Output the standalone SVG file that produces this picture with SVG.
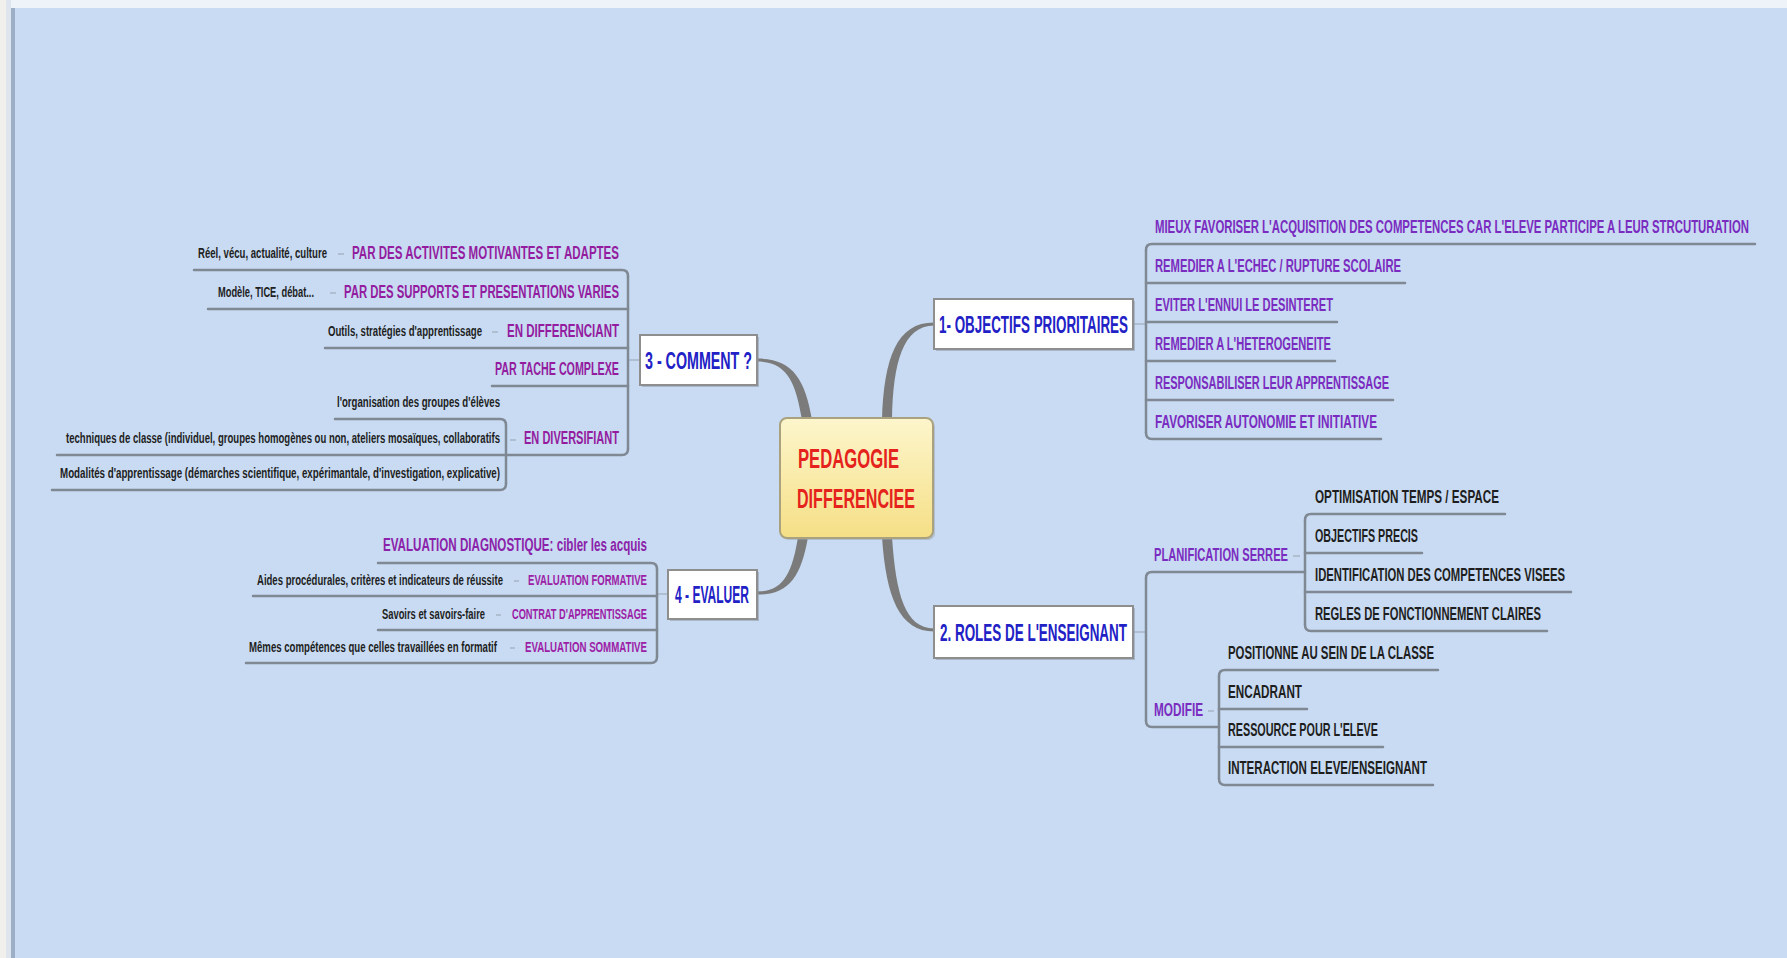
<svg xmlns="http://www.w3.org/2000/svg" width="1787" height="958" viewBox="0 0 1787 958">
<defs>
<linearGradient id="cg" x1="0" y1="0" x2="0" y2="1">
<stop offset="0" stop-color="#fdf6cc"/>
<stop offset="1" stop-color="#f5df86"/>
</linearGradient>
</defs>
<style>
text{font-family:"Liberation Sans Narrow","Liberation Sans","DejaVu Sans",sans-serif;font-weight:bold}
.m{font-size:18.5px}
.s{font-size:14.5px}
.ttl{font-size:23.5px;fill:#2121c6}
.pl{fill:#931c9f}
.pr{fill:#7a2cc0}
.pe{fill:#9c20a6}
.k{fill:#1e1e1e}
.ul{fill:none;stroke:#7f8893;stroke-width:2.5;stroke-linecap:round}
.sp{fill:none;stroke:#7f8893;stroke-width:2.5}
.stub{stroke:#a7b4c6;stroke-width:1.5}
.box{fill:#fff;stroke:#8e8e8e;stroke-width:2}
.sh{fill:#8d98a6;opacity:.55}
.br{fill:#7b7b7b}
</style>
<rect x="0" y="0" width="1787" height="958" fill="#c8dbf2"/>
<rect x="0" y="0" width="1787" height="8" fill="#eef3fa"/>
<rect x="0" y="0" width="6" height="958" fill="#f2f0ec"/>
<rect x="6" y="0" width="5" height="958" fill="#dfe5ee"/>
<rect x="11" y="8" width="4" height="950" fill="#9dafc7"/>

<g id="connectors">
<path class="br" d="M 882 420 C 884 357, 897 322.5, 934 322.5 L 934 325.5 C 903 326, 893 362, 892 420 Z"/>
<path class="br" d="M 802 420 C 796 384, 788 361.5, 757 361.5 L 757 358.5 C 792 358.5, 805 378, 812 420 Z"/>
<path class="br" d="M 798 537 C 792 574, 783 591.5, 757 591.5 L 757 594.5 C 788 595, 801 578, 808 537 Z"/>
<path class="br" d="M 882 537 C 886 598, 900 631.5, 934 631.5 L 934 628.5 C 905 628, 896 595, 892 537 Z"/>
<line class="stub" x1="1134" y1="324" x2="1145" y2="324"/>
<line class="stub" x1="1134" y1="632" x2="1145" y2="632"/>
<line class="stub" x1="629" y1="360" x2="639" y2="360"/>
<line class="stub" x1="658" y1="594" x2="667" y2="594"/>
<line class="stub" x1="1293" y1="556" x2="1300" y2="556"/>
<line class="stub" x1="1208" y1="711" x2="1214" y2="711"/>
<line class="stub" x1="338" y1="254" x2="344" y2="254"/>
<line class="stub" x1="330" y1="293" x2="336" y2="293"/>
<line class="stub" x1="492" y1="332" x2="498" y2="332"/>
<line class="stub" x1="510" y1="440" x2="516" y2="440"/>
<line class="stub" x1="514" y1="581" x2="519" y2="581"/>
<line class="stub" x1="496" y1="615" x2="501" y2="615"/>
<line class="stub" x1="510" y1="648" x2="515" y2="648"/>
<path class="sp" d="M 1146 250 L 1146 433"/>
<path class="sp" d="M 1146 578 L 1146 721"/>
<path class="sp" d="M 1305 520 L 1305 625"/>
<path class="sp" d="M 1219 676 L 1219 779"/>
<path class="sp" d="M 628 276 L 628 449"/>
<path class="sp" d="M 506 425 L 506 484"/>
<path class="sp" d="M 657 569 L 657 657"/>
</g>

<g id="central">
<rect x="782" y="420" width="153" height="120" rx="7" fill="#98a2ae" opacity=".5"/>
<rect x="780" y="418" width="153" height="120" rx="7" fill="url(#cg)" stroke="#aaa27e" stroke-width="2"/>
<text x="798" y="468" font-size="27" fill="#e5221c" textLength="101" lengthAdjust="spacingAndGlyphs">PEDAGOGIE</text>
<text x="797" y="508" font-size="27" fill="#e5221c" textLength="118" lengthAdjust="spacingAndGlyphs">DIFFERENCIEE</text>
</g>

<g id="n1">
<rect class="sh" x="936" y="301" width="199" height="50"/>
<rect class="box" x="934" y="299" width="199" height="50"/>
<text class="ttl" x="939" y="332.5" textLength="189" lengthAdjust="spacingAndGlyphs">1- OBJECTIFS PRIORITAIRES</text>
</g>
<g id="n1-1"><path class="ul" d="M 1146 250 Q 1146 244 1152 244 L 1755 244"/><text class="m pr" x="1155" y="233" textLength="594" lengthAdjust="spacingAndGlyphs">MIEUX FAVORISER L'ACQUISITION DES COMPETENCES CAR L'ELEVE PARTICIPE A LEUR STRCUTURATION</text></g>
<g id="n1-2"><path class="ul" d="M 1146 283 L 1405 283"/><text class="m pr" x="1155" y="272" textLength="246" lengthAdjust="spacingAndGlyphs">REMEDIER A L'ECHEC / RUPTURE SCOLAIRE</text></g>
<g id="n1-3"><path class="ul" d="M 1146 322 L 1337 322"/><text class="m pr" x="1155" y="311" textLength="178" lengthAdjust="spacingAndGlyphs">EVITER L'ENNUI LE DESINTERET</text></g>
<g id="n1-4"><path class="ul" d="M 1146 361 L 1335 361"/><text class="m pr" x="1155" y="350" textLength="176" lengthAdjust="spacingAndGlyphs">REMEDIER A L'HETEROGENEITE</text></g>
<g id="n1-5"><path class="ul" d="M 1146 400 L 1393 400"/><text class="m pr" x="1155" y="389" textLength="234" lengthAdjust="spacingAndGlyphs">RESPONSABILISER LEUR APPRENTISSAGE</text></g>
<g id="n1-6"><path class="ul" d="M 1146 433 Q 1146 439 1152 439 L 1381 439"/><text class="m pr" x="1155" y="428" textLength="222" lengthAdjust="spacingAndGlyphs">FAVORISER AUTONOMIE ET INITIATIVE</text></g>

<g id="n2">
<rect class="sh" x="936" y="608" width="199" height="52"/>
<rect class="box" x="934" y="606" width="199" height="52"/>
<text class="ttl" x="940" y="640.5" textLength="187" lengthAdjust="spacingAndGlyphs">2. ROLES DE L'ENSEIGNANT</text>
</g>
<g id="n2-1"><path class="ul" d="M 1146 578 Q 1146 572 1152 572 L 1305 572"/><text class="m pr" x="1154" y="561" textLength="134" lengthAdjust="spacingAndGlyphs">PLANIFICATION SERREE</text></g>
<g id="n2-1-1"><path class="ul" d="M 1305 520 Q 1305 514 1311 514 L 1505 514"/><text class="m k" x="1315" y="502.5" textLength="184" lengthAdjust="spacingAndGlyphs">OPTIMISATION TEMPS / ESPACE</text></g>
<g id="n2-1-2"><path class="ul" d="M 1305 553 L 1422 553"/><text class="m k" x="1315" y="541.5" textLength="103" lengthAdjust="spacingAndGlyphs">OBJECTIFS PRECIS</text></g>
<g id="n2-1-3"><path class="ul" d="M 1305 592 L 1571 592"/><text class="m k" x="1315" y="580.5" textLength="250" lengthAdjust="spacingAndGlyphs">IDENTIFICATION DES COMPETENCES VISEES</text></g>
<g id="n2-1-4"><path class="ul" d="M 1305 625 Q 1305 631 1311 631 L 1547 631"/><text class="m k" x="1315" y="619.5" textLength="226" lengthAdjust="spacingAndGlyphs">REGLES DE FONCTIONNEMENT CLAIRES</text></g>
<g id="n2-2"><path class="ul" d="M 1146 721 Q 1146 727 1152 727 L 1219 727"/><text class="m pr" x="1154" y="716" textLength="49" lengthAdjust="spacingAndGlyphs">MODIFIE</text></g>
<g id="n2-2-1"><path class="ul" d="M 1219 676 Q 1219 670 1225 670 L 1438 670"/><text class="m k" x="1228" y="658.5" textLength="206" lengthAdjust="spacingAndGlyphs">POSITIONNE AU SEIN DE LA CLASSE</text></g>
<g id="n2-2-2"><path class="ul" d="M 1219 709 L 1307 709"/><text class="m k" x="1228" y="697.5" textLength="74" lengthAdjust="spacingAndGlyphs">ENCADRANT</text></g>
<g id="n2-2-3"><path class="ul" d="M 1219 747 L 1383 747"/><text class="m k" x="1228" y="735.5" textLength="150" lengthAdjust="spacingAndGlyphs">RESSOURCE POUR L'ELEVE</text></g>
<g id="n2-2-4"><path class="ul" d="M 1219 779 Q 1219 785 1225 785 L 1433 785"/><text class="m k" x="1228" y="773.5" textLength="199" lengthAdjust="spacingAndGlyphs">INTERACTION ELEVE/ENSEIGNANT</text></g>

<g id="n3">
<rect class="sh" x="642" y="337" width="117" height="50"/>
<rect class="box" x="640" y="335" width="117" height="50"/>
<text class="ttl" x="645" y="368.5" textLength="107" lengthAdjust="spacingAndGlyphs">3 - COMMENT ?</text>
</g>
<g id="n3-1"><path class="ul" d="M 628 276 Q 628 270 622 270 L 194 270"/><text class="m pl" x="352" y="258.5" textLength="267" lengthAdjust="spacingAndGlyphs">PAR DES ACTIVITES MOTIVANTES ET ADAPTES</text><text class="s k" x="198" y="258" textLength="129" lengthAdjust="spacingAndGlyphs">Réel, vécu, actualité, culture</text></g>
<g id="n3-2"><path class="ul" d="M 628 309 L 208 309"/><text class="m pl" x="344" y="297.5" textLength="275" lengthAdjust="spacingAndGlyphs">PAR DES SUPPORTS ET PRESENTATIONS VARIES</text><text class="s k" x="218" y="297" textLength="96" lengthAdjust="spacingAndGlyphs">Modèle, TICE, débat...</text></g>
<g id="n3-3"><path class="ul" d="M 628 348 L 325 348"/><text class="m pl" x="507" y="336.5" textLength="112" lengthAdjust="spacingAndGlyphs">EN DIFFERENCIANT</text><text class="s k" x="328" y="336" textLength="154" lengthAdjust="spacingAndGlyphs">Outils, stratégies d'apprentissage</text></g>
<g id="n3-4"><path class="ul" d="M 628 386 L 492 386"/><text class="m pl" x="495" y="374.5" textLength="124" lengthAdjust="spacingAndGlyphs">PAR TACHE COMPLEXE</text></g>
<g id="n3-5"><path class="ul" d="M 628 449 Q 628 455 622 455 L 506 455"/><text class="m pl" x="524" y="444" textLength="95" lengthAdjust="spacingAndGlyphs">EN DIVERSIFIANT</text></g>
<g id="n3-5-1"><path class="ul" d="M 506 425 Q 506 419 500 419 L 335 419"/><text class="s k" x="337" y="407" textLength="163" lengthAdjust="spacingAndGlyphs">l'organisation des groupes d'élèves</text></g>
<g id="n3-5-2"><path class="ul" d="M 506 455 L 57 455"/><text class="s k" x="66" y="443" textLength="434" lengthAdjust="spacingAndGlyphs">techniques de classe (individuel, groupes homogènes ou non, ateliers mosaïques, collaboratifs</text></g>
<g id="n3-5-3"><path class="ul" d="M 506 484 Q 506 490 500 490 L 52 490"/><text class="s k" x="60" y="478" textLength="440" lengthAdjust="spacingAndGlyphs">Modalités d'apprentissage (démarches scientifique, expérimantale, d'investigation, explicative)</text></g>

<g id="n4">
<rect class="sh" x="670" y="572" width="89" height="49"/>
<rect class="box" x="668" y="570" width="89" height="49"/>
<text class="ttl" x="675" y="603" textLength="74" lengthAdjust="spacingAndGlyphs">4 - EVALUER</text>
</g>
<g id="n4-1"><path class="ul" d="M 657 569 Q 657 563 651 563 L 378 563"/><text class="m" fill="#8b22a9" x="383" y="551" textLength="264" lengthAdjust="spacingAndGlyphs">EVALUATION DIAGNOSTIQUE: cibler les acquis</text></g>
<g id="n4-2"><path class="ul" d="M 657 596 L 253 596"/><text class="s pe" x="528" y="585" textLength="119" lengthAdjust="spacingAndGlyphs">EVALUATION FORMATIVE</text><text class="s k" x="257" y="585" textLength="246" lengthAdjust="spacingAndGlyphs">Aides procédurales, critères et indicateurs de réussite</text></g>
<g id="n4-3"><path class="ul" d="M 657 630 L 378 630"/><text class="s pe" x="512" y="619" textLength="135" lengthAdjust="spacingAndGlyphs">CONTRAT D'APPRENTISSAGE</text><text class="s k" x="382" y="619" textLength="103" lengthAdjust="spacingAndGlyphs">Savoirs et savoirs-faire</text></g>
<g id="n4-4"><path class="ul" d="M 657 657 Q 657 663 651 663 L 246 663"/><text class="s pe" x="525" y="652" textLength="122" lengthAdjust="spacingAndGlyphs">EVALUATION SOMMATIVE</text><text class="s k" x="249" y="652" textLength="248" lengthAdjust="spacingAndGlyphs">Mêmes compétences que celles travaillées en formatif</text></g>
</svg>
